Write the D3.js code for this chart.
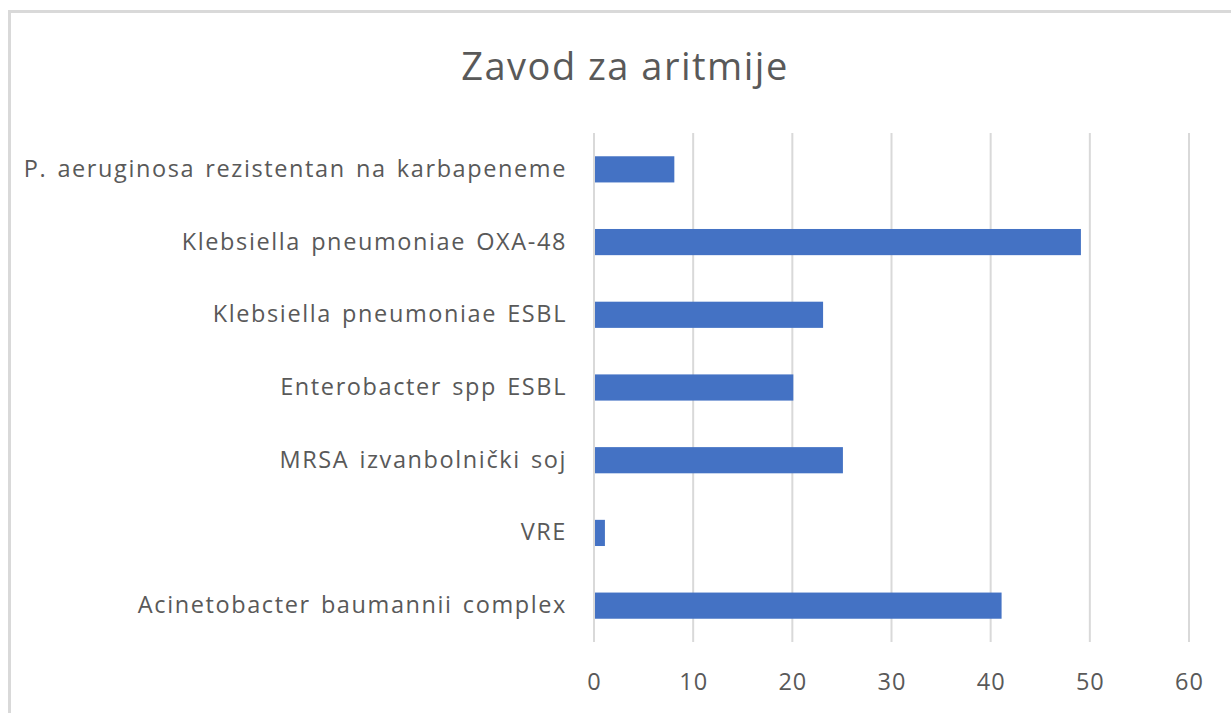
<!DOCTYPE html>
<html>
<head>
<meta charset="utf-8">
<script src="https://cdn.jsdelivr.net/npm/d3@7"></script>
<style>
  html, body { margin: 0; padding: 0; background: #fff; }
  svg { display: block; font-family: "Open Sans", "Noto Sans", sans-serif; }
</style>
</head>
<body>
<svg id="chart"></svg>
<script>
"use strict";

const width = 1231
const height = 713

const title = "Zavod za aritmije"
// top to bottom, as drawn
const categories = [
    "P. aeruginosa rezistentan na karbapeneme",
    "Klebsiella pneumoniae OXA-48",
    "Klebsiella pneumoniae ESBL",
    "Enterobacter spp ESBL",
    "MRSA izvanbolnički soj",
    "VRE",
    "Acinetobacter baumannii complex"
]
const values = [8, 49, 23, 20, 25, 1, 41]
const xTicks = [0, 10, 20, 30, 40, 50, 60]

const margin = { top: 133, right: 42, bottom: 71, left: 594 }
const textColor = "#595959"
const gridColor = "#d9d9d9"
const barColor = "#4472C4"

const svg = d3.select("#chart")
    .attr("width", width)
    .attr("height", height)

// chart area frame
svg.append("rect")
    .attr("x", 9.5).attr("y", 11.5)
    .attr("width", 1240).attr("height", 720)
    .attr("fill", "none")
    .attr("stroke", gridColor)
    .attr("stroke-width", 3)

svg.append("text")
    .attr("x", 625)
    .attr("y", 80)
    .attr("text-anchor", "middle")
    .attr("font-size", 38)
    .attr("letter-spacing", 1.5)
    .attr("fill", textColor)
    .text(title)

const x = d3.scaleLinear()
    .domain([0, 60])
    .range([margin.left, width - margin.right])

const y = d3.scaleBand()
    .domain(categories)
    .range([margin.top, height - margin.bottom])
    .paddingInner(0.64)
    .paddingOuter(0.32)

// gridlines
svg.append("g")
    .selectAll("line")
    .data(xTicks)
    .join("line")
    .attr("x1", d => x(d)).attr("x2", d => x(d))
    .attr("y1", margin.top).attr("y2", height - margin.bottom)
    .attr("stroke", gridColor)
    .attr("stroke-width", 2)

// bars
svg.append("g")
    .selectAll("rect")
    .data(categories)
    .join("rect")
    .attr("x", x(0) + 1)
    .attr("y", d => y(d))
    .attr("width", (d, i) => x(values[i]) - x(0))
    .attr("height", y.bandwidth())
    .attr("fill", barColor)

// category labels
const yAxis = svg.append("g")
    .attr("transform", `translate(${margin.left - 27},0)`)
    .call(d3.axisLeft(y).tickSize(0).tickPadding(0))
    .attr("font-family", null)
    .attr("font-size", 23.5)
    .attr("letter-spacing", 1.6)
    .attr("word-spacing", 2.5)
yAxis.select(".domain").remove()
yAxis.selectAll("text")
    .attr("fill", textColor)

// value axis
const xAxis = svg.append("g")
    .attr("transform", `translate(0,${height - margin.bottom + 31})`)
    .call(d3.axisBottom(x).tickValues(xTicks).tickSize(0).tickPadding(0))
    .attr("font-family", null)
    .attr("font-size", 23.5)
    .attr("letter-spacing", 1)
xAxis.select(".domain").remove()
xAxis.selectAll("text")
    .attr("fill", textColor)
</script>
</body>
</html>
